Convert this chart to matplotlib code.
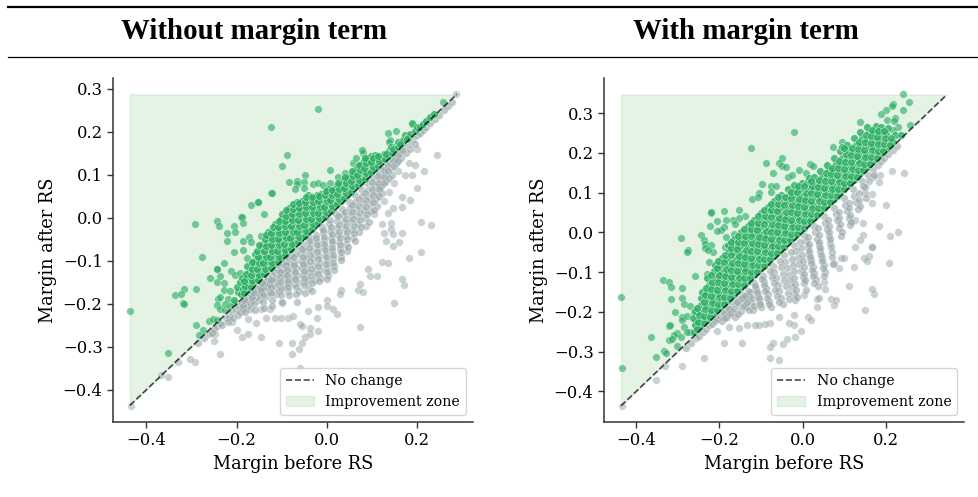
# Margin before / after RS, with and without margin term
import matplotlib
matplotlib.use("Agg")
import matplotlib.pyplot as plt
from matplotlib.lines import Line2D

# --------------------------------------------
# DATA: (margin before, margin after)
# --------------------------------------------
left_range = (-0.436, 0.287)
right_range = (-0.436, 0.346)
xticks_all = [-0.4, -0.2, 0.0, 0.2]
left_yticks = [-0.4, -0.3, -0.2, -0.1, 0.0, 0.1, 0.2, 0.3]
right_yticks = [-0.4, -0.3, -0.2, -0.1, 0.0, 0.1, 0.2, 0.3]
titles = ["Without margin term", "With margin term"]

left_green_sparse = [
    (-.021,.253),(-.124,.212),(-.088,.147),(-.099,.120),(.007,.111),(.257,.270),(.187,.219),(.188,.220),
    (.152,.202),(.136,.196),(.139,.182),(.138,.177),(-.292,-.014),(-.244,-.007),(-.238,-.019),(-.206,-.018),
    (-.221,-.036),(-.204,-.033),(-.221,-.053),(-.190,.001),(-.189,.002),(-.185,-.013),(-.168,.029),(-.153,.036),
    (-.152,.036),(-.140,.009),(-.173,-.044),(-.185,-.053),(-.168,-.056),(-.145,-.043),(-.123,.058),(-.122,.058),
    (-.084,.084),(-.067,.086),(-.049,.100),(-.067,.078),(-.051,.084),(-.071,.068),(-.051,.070),(-.032,.078),
    (-.020,.080),(-.008,.077),(.007,.080),(.025,.094),(.040,.103),(.058,.128),(.064,.138),(.080,.150),(.078,.157),
    (-.436,-.216),(-.277,-.091),(-.227,-.104),(-.244,-.120),(-.243,-.120),(-.259,-.139),(-.244,-.149),(-.236,-.136),
    (-.228,-.151),(-.212,-.123),(-.204,-.132),(-.192,-.128),(-.205,-.079),(-.185,-.075),(-.176,-.094),(-.163,-.102),
    (-.316,-.166),(-.336,-.180),(-.322,-.177),(-.290,-.166),(-.318,-.199),(-.317,-.201),(-.351,-.314),(-.289,-.249),
    (-.274,-.261),(-.283,-.273),(-.261,-.239),(-.253,-.235),(-.244,-.237),(-.242,-.188),(-.236,-.185),(-.244,-.203),
    (-.236,-.211),(-.225,-.215),(-.218,-.188),(-.206,-.199),(-.228,-.168),(-.214,-.170),(-.226,-.200),(-.215,-.205),
]

left_green_dense = [
    (-.205,-.190),(-.198,-.172),(-.200,-.160),(-.190,-.178),(-.186,-.165),(-.192,-.150),(-.188,-.140),
    (-.178,-.168),(-.174,-.155),(-.176,-.140),(-.172,-.125),(-.178,-.112),
    (-.164,-.152),(-.160,-.140),(-.158,-.125),(-.162,-.110),(-.157,-.097),(-.160,-.085),
    (-.150,-.140),(-.146,-.128),(-.144,-.112),(-.149,-.098),(-.143,-.085),(-.147,-.070),(-.142,-.060),
    (-.135,-.126),(-.132,-.113),(-.130,-.100),(-.134,-.086),(-.128,-.072),(-.132,-.058),(-.127,-.045),(-.130,-.032),
    (-.120,-.110),(-.117,-.098),(-.115,-.084),(-.119,-.070),(-.113,-.056),(-.118,-.042),(-.112,-.028),(-.116,-.015),
    (-.105,-.096),(-.102,-.084),(-.100,-.070),(-.104,-.056),(-.098,-.042),(-.103,-.028),(-.097,-.014),(-.101,-.002),(-.099,.010),
    (-.090,-.081),(-.087,-.068),(-.085,-.055),(-.089,-.041),(-.083,-.027),(-.088,-.013),(-.082,.000),(-.086,.012),(-.083,.022),
    (-.075,-.066),(-.072,-.053),(-.070,-.040),(-.074,-.026),(-.068,-.012),(-.073,.002),(-.067,.015),(-.071,.026),(-.066,.036),
    (-.060,-.051),(-.057,-.038),(-.055,-.025),(-.059,-.011),(-.053,.003),(-.058,.016),(-.052,.028),(-.056,.040),
    (-.045,-.036),(-.042,-.023),(-.040,-.010),(-.044,.004),(-.038,.018),(-.043,.030),(-.037,.042),(-.041,.052),
    (-.030,-.021),(-.027,-.008),(-.025,.005),(-.029,.018),(-.023,.031),(-.028,.044),(-.022,.054),
    (-.015,-.006),(-.012,.006),(-.010,.019),(-.014,.032),(-.008,.044),(-.013,.056),
    (.000,.009),(.003,.021),(.005,.034),(.001,.047),(.007,.058),(.002,.068),
    (.015,.024),(.018,.036),(.020,.049),(.016,.062),(.022,.074),
    (.030,.039),(.033,.051),(.035,.064),(.031,.076),(.037,.088),
    (.045,.054),(.048,.066),(.050,.079),(.046,.092),(.052,.100),
    (.060,.069),(.063,.081),(.065,.094),(.061,.106),(.067,.115),
    (.075,.084),(.078,.096),(.080,.109),(.076,.122),(.082,.131),
    (.090,.099),(.093,.111),(.095,.124),(.091,.136),(.097,.143),
    (.105,.114),(.108,.126),(.110,.138),(.106,.147),
    (.120,.129),(.123,.140),(.125,.149),(.135,.144),(.138,.155),(.141,.164),
    (.150,.159),(.153,.168),(.156,.176),(.165,.173),(.168,.182),(.172,.192),
    (.180,.187),(.184,.195),(.195,.202),(.199,.210),(.205,.212),
    (.212,.218),(.220,.226),(.228,.234),(.236,.242),
    # second pass through the same cloud
    (-.183,-.174),(-.181,-.158),(-.184,-.146),(-.180,-.130),
    (-.168,-.160),(-.166,-.146),(-.169,-.132),(-.165,-.118),(-.167,-.103),
    (-.153,-.145),(-.151,-.132),(-.154,-.118),(-.150,-.105),(-.152,-.091),(-.155,-.077),(-.151,-.064),
    (-.139,-.131),(-.137,-.118),(-.141,-.105),(-.136,-.092),(-.139,-.078),(-.136,-.065),(-.138,-.050),(-.135,-.040),
    (-.124,-.116),(-.122,-.104),(-.126,-.091),(-.121,-.078),(-.124,-.063),(-.121,-.049),(-.123,-.035),(-.120,-.022),
    (-.109,-.102),(-.107,-.090),(-.111,-.077),(-.106,-.063),(-.109,-.049),(-.107,-.035),(-.108,-.021),(-.106,-.008),
    (-.094,-.087),(-.092,-.075),(-.096,-.062),(-.091,-.048),(-.094,-.034),(-.092,-.020),(-.093,-.007),(-.091,.005),(-.090,.018),
    (-.079,-.072),(-.077,-.060),(-.081,-.047),(-.076,-.033),(-.079,-.019),(-.077,-.005),(-.078,.008),(-.076,.020),(-.075,.032),
    (-.064,-.057),(-.062,-.045),(-.066,-.032),(-.061,-.018),(-.064,-.004),(-.062,.010),(-.063,.022),(-.061,.034),
    (-.049,-.042),(-.047,-.030),(-.051,-.017),(-.046,-.003),(-.049,.011),(-.047,.024),(-.048,.036),(-.046,.048),
    (-.034,-.027),(-.032,-.015),(-.036,-.002),(-.031,.011),(-.034,.024),(-.032,.037),(-.033,.048),
    (-.019,-.012),(-.017,.000),(-.021,.012),(-.016,.025),(-.019,.038),(-.017,.050),
    (-.004,.003),(-.002,.014),(-.006,.026),(-.001,.039),(-.004,.052),(-.002,.062),
    (.008,.015),(.011,.028),(.006,.041),(.012,.053),(.010,.065),
    (.023,.031),(.026,.043),(.022,.056),(.027,.068),(.025,.080),
    (.038,.046),(.041,.058),(.037,.070),(.042,.082),(.040,.094),
    (.053,.061),(.056,.073),(.052,.086),(.057,.098),(.055,.108),
    (.068,.076),(.071,.088),(.067,.100),(.072,.112),(.070,.122),
    (.083,.091),(.086,.103),(.082,.115),(.087,.127),(.085,.138),
    (.098,.106),(.101,.118),(.097,.130),(.102,.140),(.113,.121),(.116,.133),(.112,.144),
    (.128,.136),(.131,.148),(.144,.151),(.146,.160),(.158,.165),(.161,.172),(.176,.184),
]

left_gray_sparse = [
    (-.434,-.437),(-.352,-.371),(-.367,-.366),(-.291,-.336),(-.303,-.329),(-.329,-.335),(-.237,-.317),(-.251,-.286),
    (-.247,-.269),(-.189,-.278),(-.174,-.271),(-.146,-.278),(-.106,-.290),(-.078,-.317),(-.063,-.305),(-.077,-.290),
    (-.056,-.292),(-.049,-.277),(-.038,-.271),(-.038,-.257),(-.020,-.263),(-.060,-.349),(.074,-.254),(.148,-.197),
    (.171,-.157),(.167,-.143),(.207,-.079),(.182,-.093),(.121,-.102),(.134,-.106),(.090,-.119),(.095,-.136),
    (.110,-.136),(.069,-.168),(.080,-.172),(.073,-.154),(.032,-.168),(.029,-.176),(.014,-.212),(.021,-.224),
    (.000,-.190),(.000,-.205),(-.019,-.207),(-.023,-.232),(-.041,-.217),(-.060,-.246),(-.056,-.252),
    (-.115,-.234),(-.102,-.234),(-.087,-.232),(-.076,-.229),(-.135,-.233),(-.157,-.244),(-.175,-.236),(-.199,-.260),(-.211,-.242),
    (-.145,-.211),(-.126,-.211),(-.100,-.197),(.285,.287),(.243,.147),(.215,.108),(.200,.069),(.200,.161),
    (.187,.099),(.173,.099),(.158,.109),(.182,.128),(.195,.122),(.165,.049),(.165,.026),(.184,.041),(.145,.023),
    (.136,.012),(.209,-.009),(.230,-.016),(.165,-.036),(.142,-.011),(.142,-.025),(.145,-.038),(.125,-.036),
    (.131,-.053),(.147,-.065),(.160,-.057),(.121,-.015),(.104,.010),(.127,.040),(.137,.060),(.118,.072),(.148,.081),
]

left_gray_dense = [
    (-.285,-.292),(-.272,-.280),(-.262,-.270),(-.255,-.268),(-.250,-.258),(-.243,-.252),(-.236,-.245),(-.232,-.250),
    (-.224,-.232),(-.216,-.230),(-.218,-.243),(-.210,-.220),(-.208,-.233),
    (-.202,-.212),(-.198,-.225),(-.195,-.205),(-.192,-.218),(-.188,-.198),(-.186,-.212),
    (-.180,-.190),(-.177,-.205),(-.174,-.184),(-.171,-.197),(-.168,-.178),(-.166,-.192),(-.170,-.213),
    (-.160,-.170),(-.157,-.184),(-.154,-.165),(-.151,-.178),(-.149,-.158),(-.147,-.172),(-.150,-.192),
    (-.142,-.152),(-.139,-.166),(-.136,-.147),(-.134,-.181),(-.133,-.160),(-.130,-.140),(-.128,-.154),(-.127,-.172),
    (-.122,-.132),(-.120,-.146),(-.117,-.127),(-.115,-.160),(-.113,-.178),(-.112,-.140),(-.110,-.120),(-.108,-.154),(-.106,-.170),
    (-.103,-.113),(-.101,-.127),(-.098,-.108),(-.096,-.142),(-.094,-.158),(-.093,-.122),(-.091,-.101),(-.089,-.136),(-.087,-.151),(-.086,-.170),
    (-.084,-.094),(-.082,-.108),(-.079,-.089),(-.077,-.122),(-.075,-.138),(-.074,-.154),(-.072,-.102),(-.070,-.082),(-.068,-.116),(-.066,-.132),(-.065,-.150),(-.063,-.170),
    (-.061,-.071),(-.059,-.085),(-.057,-.100),(-.055,-.116),(-.053,-.133),(-.052,-.150),(-.050,-.064),(-.048,-.078),(-.046,-.094),(-.044,-.110),(-.043,-.127),(-.041,-.145),(-.040,-.163),
    (-.037,-.047),(-.035,-.062),(-.033,-.077),(-.031,-.093),(-.029,-.110),(-.027,-.127),(-.026,-.145),(-.025,-.040),(-.022,-.056),(-.020,-.072),(-.018,-.088),(-.016,-.105),(-.014,-.122),(-.013,-.140),
    (-.010,-.021),(-.008,-.036),(-.006,-.052),(-.004,-.068),(-.002,-.084),(.000,-.100),(.001,-.117),(.002,-.134),(.004,-.014),(.006,-.030),(.008,-.046),(.010,-.062),(.012,-.078),(.013,-.094),(.015,-.112),
    (.019,.008),(.021,-.008),(.023,-.024),(.025,-.040),(.027,-.056),(.029,-.072),(.030,-.090),(.033,.021),(.035,.006),(.037,-.010),(.039,-.026),(.041,-.042),(.043,-.060),(.045,-.078),
    (.048,.037),(.050,.022),(.052,.006),(.054,-.010),(.056,-.028),(.058,-.046),(.061,.052),(.063,.036),(.065,.020),(.067,.004),(.069,-.014),(.071,-.032),
    (.076,.066),(.078,.050),(.080,.034),(.082,.018),(.084,.000),(.086,-.018),(.089,.080),(.091,.064),(.093,.048),(.095,.032),(.097,.015),
    (.102,.092),(.104,.076),(.106,.060),(.108,.044),(.110,.028),(.115,.105),(.117,.090),(.119,.074),(.121,.058),
    (.127,.118),(.129,.102),(.131,.086),(.139,.130),(.141,.115),(.143,.100),(.150,.142),(.153,.127),(.161,.153),(.164,.139),
    (.171,.164),(.174,.150),(.181,.174),(.184,.161),(.190,.183),(.194,.172),(.200,.192),(.205,.198),(.212,.204),(.220,.212),
    (.228,.220),(.238,.230),(.248,.240),(.258,.250),(.268,.261),(.276,.269),
    # second pass through the same cloud
    (-.185,-.205),(-.183,-.192),(-.182,-.220),(-.165,-.185),(-.163,-.172),(-.162,-.200),(-.160,-.214),
    (-.145,-.165),(-.143,-.152),(-.142,-.180),(-.141,-.195),(-.140,-.210),(-.125,-.145),(-.124,-.160),(-.123,-.175),(-.122,-.190),(-.121,-.205),
    (-.105,-.125),(-.104,-.138),(-.103,-.150),(-.102,-.165),(-.101,-.180),(-.100,-.195),(-.090,-.110),(-.089,-.122),(-.088,-.134),(-.087,-.146),(-.086,-.160),(-.085,-.180),
    (-.073,-.092),(-.072,-.110),(-.071,-.125),(-.070,-.142),(-.069,-.160),(-.068,-.178),(-.067,-.195),
    (-.055,-.072),(-.054,-.090),(-.053,-.108),(-.052,-.124),(-.051,-.140),(-.050,-.157),(-.049,-.175),
    (-.040,-.055),(-.039,-.070),(-.038,-.086),(-.037,-.101),(-.036,-.118),(-.035,-.135),(-.034,-.152),(-.033,-.170),
    (-.024,-.048),(-.023,-.064),(-.022,-.080),(-.021,-.096),(-.020,-.113),(-.019,-.130),(-.018,-.148),
    (-.009,-.028),(-.007,-.044),(-.006,-.060),(-.005,-.076),(-.003,-.092),(-.002,-.108),(-.001,-.125),(.000,-.142),
    (.007,-.006),(.009,-.022),(.010,-.038),(.011,-.054),(.012,-.070),(.013,-.086),(.014,-.104),(.016,-.122),
    (.024,.004),(.026,-.016),(.027,-.032),(.028,-.048),(.029,-.064),(.031,-.080),(.032,-.098),
    (.040,.014),(.041,-.002),(.042,-.018),(.044,-.034),(.045,-.050),(.046,-.068),
    (.055,.030),(.056,.014),(.057,-.002),(.059,-.018),(.060,-.036),(.062,-.054),
    (.070,.044),(.071,.028),(.072,.012),(.074,-.004),(.075,-.022),(.085,.058),(.086,.042),(.087,.026),(.089,.008),(.092,-.010),
    (.099,.084),(.100,.068),(.101,.052),(.102,.036),(.104,.018),(.112,.098),(.113,.082),(.114,.066),(.115,.050),
    (.125,.112),(.126,.096),(.127,.080),(.135,.122),(.136,.108),(.137,.092),(.147,.135),(.148,.120),(.157,.146),(.158,.132),(.167,.157),
]

right_green_sparse = [
    (.240,.348),(.256,.328),(.242,.308),(.218,.322),(.214,.318),(.200,.308),(.188,.297),(.202,.283),(.222,.287),(.219,.281),
    (.230,.266),(.216,.257),(.258,.270),(.138,.277),(-.022,.253),(-.124,.211),(.072,.214),(.095,.226),(-.089,.174),
    (-.049,.188),(-.057,.174),(-.050,.167),(-.040,.164),(-.072,.150),(-.009,.157),(.008,.150),(.018,.172),(.024,.168),
    (-.036,.138),(-.025,.144),(-.098,.121),(-.076,.117),(-.065,.117),(-.105,.098),(-.121,.085),(-.076,.102),(-.108,.090),
    (-.220,.048),(-.219,.050),(-.190,.054),(-.153,.056),(-.138,.042),(-.153,.037),(-.168,.031),(-.162,.021),(-.185,.031),
    (-.206,.029),(-.222,.015),(-.190,.014),(-.196,.006),(-.206,.003),(-.292,-.013),(-.244,-.006),(-.237,-.019),(-.235,-.029),
    (-.221,-.032),(-.186,-.036),(-.185,-.011),(-.166,-.004),(-.276,-.044),
    (-.436,-.162),(-.434,-.340),(-.277,-.049),(-.335,-.121),(-.321,-.124),(-.317,-.137),(-.290,-.141),(-.316,-.167),(-.290,-.166),
    (-.286,-.181),(-.306,-.200),(-.270,-.184),(-.290,-.212),(-.290,-.221),(-.277,-.210),(-.322,-.236),(-.318,-.233),(-.365,-.264),
    (-.302,-.254),(-.310,-.258),(-.322,-.271),(-.293,-.263),(-.314,-.267),(-.352,-.314),(-.333,-.298),(-.328,-.303),(-.301,-.286),
    (-.270,-.250),(-.256,-.222),(-.254,-.236),(-.246,-.236),(-.224,-.074),(-.258,-.110),(-.229,-.105),(-.215,-.050),(-.234,-.040),
    (-.228,-.044),(-.285,-.238),(-.278,-.250),(-.262,-.200),
]

right_green_dense = [
    (-.262,-.250),(-.258,-.232),(-.263,-.215),(-.259,-.198),
    (-.246,-.235),(-.242,-.218),(-.247,-.200),(-.243,-.183),(-.245,-.166),(-.241,-.149),
    (-.230,-.220),(-.226,-.203),(-.231,-.186),(-.227,-.168),(-.229,-.150),(-.225,-.132),(-.230,-.115),
    (-.214,-.204),(-.210,-.187),(-.215,-.170),(-.211,-.152),(-.213,-.134),(-.209,-.116),(-.214,-.098),(-.210,-.082),
    (-.198,-.188),(-.194,-.171),(-.199,-.154),(-.195,-.136),(-.197,-.118),(-.193,-.100),(-.198,-.082),(-.194,-.065),
    (-.182,-.172),(-.178,-.155),(-.183,-.138),(-.179,-.120),(-.181,-.102),(-.177,-.084),(-.182,-.066),(-.178,-.048),(-.180,-.032),
    (-.166,-.156),(-.162,-.139),(-.167,-.122),(-.163,-.104),(-.165,-.086),(-.161,-.068),(-.166,-.050),(-.162,-.032),(-.164,-.016),
    (-.150,-.140),(-.146,-.123),(-.151,-.106),(-.147,-.088),(-.149,-.070),(-.145,-.052),(-.150,-.034),(-.146,-.016),(-.148,.000),
    (-.134,-.124),(-.130,-.107),(-.135,-.090),(-.131,-.072),(-.133,-.054),(-.129,-.036),(-.134,-.018),(-.130,.000),(-.132,.016),
    (-.118,-.108),(-.114,-.091),(-.119,-.074),(-.115,-.056),(-.117,-.038),(-.113,-.020),(-.118,-.002),(-.114,.016),(-.116,.032),
    (-.102,-.092),(-.098,-.075),(-.103,-.058),(-.099,-.040),(-.101,-.022),(-.097,-.004),(-.102,.014),(-.098,.032),(-.100,.048),
    (-.086,-.076),(-.082,-.059),(-.087,-.042),(-.083,-.024),(-.085,-.006),(-.081,.012),(-.086,.030),(-.082,.048),(-.084,.064),
    (-.070,-.060),(-.066,-.043),(-.071,-.026),(-.067,-.008),(-.069,.010),(-.065,.028),(-.070,.046),(-.066,.064),(-.068,.080),
    (-.054,-.044),(-.050,-.027),(-.055,-.010),(-.051,.008),(-.053,.026),(-.049,.044),(-.054,.062),(-.050,.080),(-.052,.094),
    (-.038,-.028),(-.034,-.011),(-.039,.006),(-.035,.024),(-.037,.042),(-.033,.060),(-.038,.078),(-.034,.095),(-.036,.108),
    (-.022,-.012),(-.018,.005),(-.023,.022),(-.019,.040),(-.021,.058),(-.017,.076),(-.022,.094),(-.018,.110),(-.020,.120),
    (-.006,.004),(-.002,.021),(-.007,.038),(-.003,.056),(-.005,.074),(-.001,.092),(-.006,.110),(-.002,.124),
    (.010,.020),(.014,.037),(.009,.054),(.013,.072),(.011,.090),(.015,.108),(.010,.124),(.014,.136),
    (.026,.036),(.030,.053),(.025,.070),(.029,.088),(.027,.106),(.031,.124),(.026,.140),
    (.042,.052),(.046,.069),(.041,.086),(.045,.104),(.043,.122),(.047,.140),(.042,.155),
    (.058,.068),(.062,.085),(.057,.102),(.061,.120),(.059,.138),(.063,.156),(.058,.170),
    (.074,.084),(.078,.101),(.073,.118),(.077,.136),(.075,.154),(.079,.172),(.074,.188),
    (.090,.100),(.094,.117),(.089,.134),(.093,.152),(.091,.170),(.095,.188),(.090,.204),(.094,.215),
    (.106,.116),(.110,.133),(.105,.150),(.109,.168),(.107,.186),(.111,.204),(.106,.220),
    (.122,.132),(.126,.149),(.121,.166),(.125,.184),(.123,.202),(.127,.220),(.122,.236),
    (.138,.148),(.142,.165),(.137,.182),(.141,.200),(.139,.218),(.143,.236),(.138,.252),
    (.154,.164),(.158,.181),(.153,.198),(.157,.216),(.155,.234),(.159,.252),(.154,.266),
    (.170,.180),(.174,.197),(.169,.214),(.173,.232),(.171,.250),(.175,.268),
    (.186,.196),(.190,.213),(.185,.230),(.189,.248),(.187,.266),
    (.202,.212),(.206,.229),(.201,.246),(.205,.262),(.218,.228),(.222,.245),(.236,.244),
    # second pass through the same cloud
    (-.254,-.244),(-.252,-.226),(-.250,-.208),(-.253,-.190),
    (-.238,-.228),(-.236,-.210),(-.234,-.193),(-.237,-.175),(-.235,-.158),(-.233,-.140),
    (-.222,-.212),(-.220,-.195),(-.218,-.178),(-.221,-.160),(-.219,-.142),(-.217,-.124),(-.221,-.106),
    (-.206,-.196),(-.204,-.179),(-.202,-.162),(-.205,-.144),(-.203,-.126),(-.201,-.108),(-.205,-.090),(-.203,-.073),
    (-.190,-.180),(-.188,-.163),(-.186,-.146),(-.189,-.128),(-.187,-.110),(-.185,-.092),(-.189,-.074),(-.187,-.056),
    (-.174,-.164),(-.172,-.147),(-.170,-.130),(-.173,-.112),(-.171,-.094),(-.169,-.076),(-.173,-.058),(-.171,-.040),(-.172,-.024),
    (-.158,-.148),(-.156,-.131),(-.154,-.114),(-.157,-.096),(-.155,-.078),(-.153,-.060),(-.157,-.042),(-.155,-.024),(-.156,-.008),
    (-.142,-.132),(-.140,-.115),(-.138,-.098),(-.141,-.080),(-.139,-.062),(-.137,-.044),(-.141,-.026),(-.139,-.008),(-.140,.008),
    (-.126,-.116),(-.124,-.099),(-.122,-.082),(-.125,-.064),(-.123,-.046),(-.121,-.028),(-.125,-.010),(-.123,.008),(-.124,.024),
    (-.110,-.100),(-.108,-.083),(-.106,-.066),(-.109,-.048),(-.107,-.030),(-.105,-.012),(-.109,.006),(-.107,.024),(-.108,.040),
    (-.094,-.084),(-.092,-.067),(-.090,-.050),(-.093,-.032),(-.091,-.014),(-.089,.004),(-.093,.022),(-.091,.040),(-.092,.056),
    (-.078,-.068),(-.076,-.051),(-.074,-.034),(-.077,-.016),(-.075,.002),(-.073,.020),(-.077,.038),(-.075,.056),(-.076,.072),
    (-.062,-.052),(-.060,-.035),(-.058,-.018),(-.061,.000),(-.059,.018),(-.057,.036),(-.061,.054),(-.059,.072),(-.060,.088),
    (-.046,-.036),(-.044,-.019),(-.042,-.002),(-.045,.016),(-.043,.034),(-.041,.052),(-.045,.070),(-.043,.088),
    (-.030,-.020),(-.028,-.003),(-.026,.014),(-.029,.032),(-.027,.050),(-.025,.068),(-.029,.086),(-.027,.102),
    (-.014,-.004),(-.012,.013),(-.010,.030),(-.013,.048),(-.011,.066),(-.009,.084),(-.013,.102),(-.011,.116),
    (.002,.012),(.004,.029),(.006,.046),(.003,.064),(.005,.082),(.007,.100),(.003,.116),
    (.018,.028),(.020,.045),(.022,.062),(.019,.080),(.021,.098),(.023,.116),(.019,.130),
    (.034,.044),(.036,.061),(.038,.078),(.035,.096),(.037,.114),(.039,.132),
    (.050,.060),(.052,.077),(.054,.094),(.051,.112),(.053,.130),(.055,.148),
    (.066,.076),(.068,.093),(.070,.110),(.067,.128),(.069,.146),(.071,.162),
    (.082,.092),(.084,.109),(.086,.126),(.083,.144),(.085,.162),(.087,.180),
    (.098,.108),(.100,.125),(.102,.142),(.099,.160),(.101,.178),(.103,.196),(.099,.212),
    (.114,.124),(.116,.141),(.118,.158),(.115,.176),(.117,.194),(.119,.212),
    (.130,.140),(.132,.157),(.134,.174),(.131,.192),(.133,.210),(.135,.228),
    (.146,.156),(.148,.173),(.150,.190),(.147,.208),(.149,.226),(.151,.244),
    (.162,.172),(.164,.189),(.166,.206),(.163,.224),(.165,.242),(.167,.258),
    (.178,.188),(.180,.205),(.182,.222),(.179,.240),(.181,.256),
    (.194,.204),(.196,.221),(.198,.238),(.195,.254),(.210,.220),(.212,.236),
]

right_gray_sparse = [
    (-.434,-.436),(-.353,-.370),(-.330,-.335),(-.290,-.335),(-.238,-.315),(-.189,-.278),(-.146,-.277),(-.078,-.316),(-.058,-.320),
    (-.078,-.289),(-.072,-.279),(-.048,-.281),(-.038,-.269),(-.018,-.264),(-.005,-.248),(.150,-.196),(.172,-.155),(.167,-.143),
    (.208,-.078),(.122,-.086),(.110,-.135),(.160,-.059),(.148,-.065),(.154,-.071),(.166,-.036),(.068,-.168),(.080,-.170),(.074,-.183),
    (.035,-.168),(.038,-.166),(.034,-.187),(.013,-.214),(.021,-.221),(-.021,-.208),(-.022,-.233),(-.034,-.227),(-.058,-.212),
    (-.078,-.229),(-.090,-.231),(-.104,-.233),(-.114,-.233),(-.134,-.233),(-.154,-.241),(-.177,-.237),(-.206,-.247),
    (.050,-.124),(.054,-.143),(.002,-.158),(.091,-.065),(.098,-.065),(.074,-.078),(.086,-.090),
    (.244,.148),(.215,.155),(.199,.069),(.183,.017),(.230,.002),(.210,-.008),(.166,.075),(.166,.096),(.146,.023),(.126,.031),
    (.144,-.007),(.138,-.019),(.166,-.036),(.126,-.036),(.184,.127),(.186,.144),(.168,.138),
]

right_gray_dense = [
    (-.280,-.290),(-.268,-.278),(-.256,-.266),(-.248,-.260),(-.240,-.250),(-.232,-.243),(-.224,-.234),(-.218,-.230),(-.210,-.222),
    (-.206,-.219),(-.198,-.210),(-.194,-.222),(-.186,-.197),(-.182,-.212),(-.176,-.187),(-.170,-.200),(-.166,-.178),(-.162,-.213),
    (-.156,-.167),(-.152,-.183),(-.148,-.197),(-.144,-.157),(-.140,-.172),(-.136,-.188),(-.132,-.148),(-.128,-.162),(-.124,-.178),(-.120,-.195),
    (-.116,-.127),(-.112,-.142),(-.108,-.157),(-.104,-.172),(-.100,-.188),(-.096,-.109),(-.092,-.124),(-.088,-.140),(-.084,-.156),(-.080,-.172),(-.076,-.188),
    (-.072,-.085),(-.068,-.100),(-.064,-.116),(-.060,-.132),(-.056,-.148),(-.052,-.164),(-.048,-.180),
    (-.046,-.058),(-.042,-.074),(-.038,-.090),(-.034,-.106),(-.030,-.122),(-.026,-.138),(-.022,-.154),(-.018,-.170),
    (-.020,-.032),(-.016,-.048),(-.012,-.064),(-.008,-.080),(-.004,-.096),(.000,-.112),(.004,-.128),(.008,-.144),
    (.004,-.006),(.008,-.022),(.012,-.038),(.016,-.054),(.020,-.070),(.024,-.086),(.028,-.102),(.032,-.118),(.036,-.134),
    (.026,.016),(.030,.000),(.034,-.016),(.038,-.032),(.042,-.048),(.046,-.064),(.050,-.082),(.054,-.100),
    (.050,.040),(.054,.024),(.058,.008),(.062,-.008),(.066,-.026),(.070,-.050),(.075,.062),(.079,.046),(.083,.030),(.087,.012),(.091,-.008),
    (.098,.086),(.102,.070),(.106,.054),(.110,.036),(.114,.018),(.120,.108),(.124,.092),(.128,.076),(.132,.058),
    (.142,.130),(.146,.116),(.150,.100),(.156,.144),(.160,.130),(.168,.158),(.172,.145),(.180,.170),(.188,.180),(.196,.188),(.206,.198),(.216,.208),(.226,.218),
    # second pass through the same cloud
    (-.190,-.204),(-.186,-.215),(-.178,-.192),(-.174,-.206),(-.166,-.192),(-.158,-.176),(-.156,-.205),
    (-.146,-.165),(-.142,-.186),(-.138,-.160),(-.134,-.175),(-.130,-.195),(-.126,-.150),(-.122,-.166),(-.118,-.185),
    (-.114,-.135),(-.110,-.150),(-.106,-.165),(-.102,-.180),(-.098,-.118),(-.094,-.133),(-.090,-.148),(-.086,-.164),(-.082,-.180),
    (-.078,-.097),(-.074,-.112),(-.070,-.128),(-.066,-.144),(-.062,-.160),(-.058,-.176),
    (-.055,-.072),(-.052,-.088),(-.048,-.104),(-.044,-.120),(-.040,-.136),(-.036,-.152),(-.032,-.168),
    (-.028,-.050),(-.026,-.066),(-.024,-.082),(-.022,-.098),(-.020,-.114),(-.018,-.130),(-.016,-.146),(-.014,-.162),
    (-.006,-.024),(-.004,-.040),(-.002,-.056),(.000,-.072),(.002,-.088),(.004,-.104),(.006,-.120),
    (.012,-.012),(.014,-.030),(.016,-.046),(.018,-.062),(.020,-.078),(.022,-.094),(.024,-.110),(.026,-.128),
    (.036,.010),(.038,-.006),(.040,-.024),(.042,-.040),(.044,-.056),(.046,-.072),(.048,-.090),(.050,-.110),
    (.060,.030),(.062,.016),(.064,.000),(.066,-.016),(.068,-.036),(.070,-.062),(.072,-.080),(.086,.052),(.088,.036),(.090,.020),(.094,.000),
    (.110,.074),(.112,.060),(.114,.044),(.116,.026),(.134,.098),(.136,.082),(.138,.066),(.150,.114),(.152,.086),
]

# --------------------------------------------
# STYLE
# --------------------------------------------
plt.rcParams["font.family"] = "DejaVu Serif"
GREEN = "#27ae60"
GRAY = "#95a5a6"
W, H = 979, 497


def draw(ax, rng, gray_sparse, gray_dense, green_sparse, green_dense, yticks):
    lo, hi = rng
    ax.fill_between([lo, hi], [lo, hi], [hi, hi], color="#2ca02c", alpha=0.12, label="Improvement zone")
    for pts, col, a in [(gray_sparse, GRAY, 0.5), (gray_dense, GRAY, 0.6), (green_sparse, GREEN, 0.62), (green_dense, GREEN, 0.8)]:
        xs, ys = zip(*pts)
        ax.scatter(xs, ys, s=30, c=col, alpha=a, edgecolors="white", linewidths=0.35, zorder=2)
    ax.plot([lo, hi], [lo, hi], color="black", ls="--", lw=1.2, alpha=0.7, label="No change", zorder=3)
    ax.set_xticks(xticks_all)
    ax.set_yticks(yticks)
    ax.tick_params(labelsize=11.8, length=4, width=1, color="#333333")
    ax.set_xlabel("Margin before RS", fontsize=12.8, labelpad=4)
    ax.set_ylabel("Margin after RS", fontsize=12.8, labelpad=4)
    ax.spines["top"].set_visible(False)
    ax.spines["right"].set_visible(False)
    for s in ["left", "bottom"]:
        ax.spines[s].set_color("#333333")
        ax.spines[s].set_linewidth(1.1)
    h, l = ax.get_legend_handles_labels()
    ax.legend(h[::-1], l[::-1], loc="lower right", fontsize=10.2, borderaxespad=0.5, bbox_to_anchor=(1.0, 0.0))


def pixel_axes(fig, x0, x1, y_top, y_bottom):
    return fig.add_axes([x0 / W, 1 - y_bottom / H, (x1 - x0) / W, (y_bottom - y_top) / H])


# --------------------------------------------
# FIGURE
# --------------------------------------------
fig = plt.figure(figsize=(W / 100, H / 100), dpi=100)

ax1 = pixel_axes(fig, 113, 473, 78, 421.7)
draw(ax1, left_range, left_gray_sparse, left_gray_dense, left_green_sparse, left_green_dense, left_yticks)
ax1.set_xlim(-0.4735, 0.323)
ax1.set_ylim(-0.474, 0.325)

ax2 = pixel_axes(fig, 604, 964.3, 78, 421.7)
draw(ax2, right_range, right_gray_sparse, right_gray_dense, right_green_sparse, right_green_dense, right_yticks)
ax2.set_xlim(-0.477, 0.388)
ax2.set_ylim(-0.476, 0.388)

# titles and rules above the panels
fig.text(254 / W, 1 - 31.5 / H, titles[0], ha="center", va="center", fontsize=20.8, fontweight="bold", family="Liberation Serif")
fig.text(745.5 / W, 1 - 31.5 / H, titles[1], ha="center", va="center", fontsize=20.8, fontweight="bold", family="Liberation Serif")
fig.add_artist(Line2D([8 / W, 1], [1 - 7 / H, 1 - 7 / H], color="black", lw=1.6))
fig.add_artist(Line2D([8 / W, 1], [1 - 56.5 / H, 1 - 56.5 / H], color="black", lw=0.9))

fig.savefig("out.png", dpi=100)
